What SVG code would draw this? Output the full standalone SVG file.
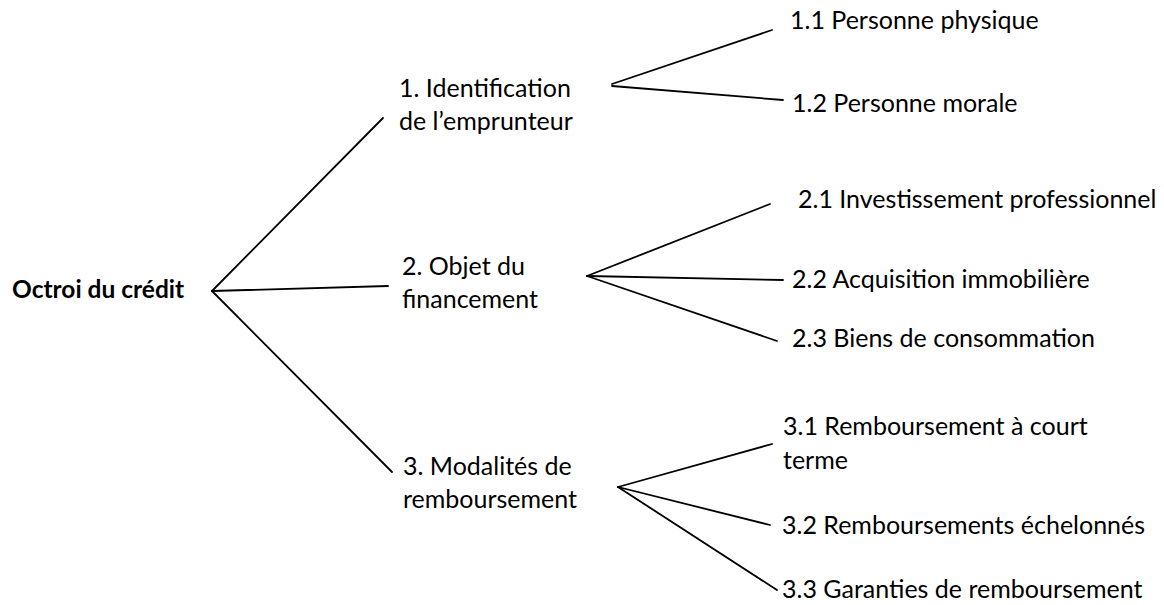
<svg xmlns="http://www.w3.org/2000/svg" width="1164" height="605" viewBox="0 0 1164 605">
<style>
text { font-family: Lato, "Liberation Sans", sans-serif; font-size: 25px; fill: #000; }
.root { font-weight: bold; font-size: 24.5px; }
.edge { stroke: #000; stroke-width: 1.8; fill: none; stroke-linecap: round; }
</style>
<rect width="1164" height="605" fill="#fff"/>
<g id="connectors">
  <line class="edge" x1="212" y1="291" x2="383" y2="118"/>
  <line class="edge" x1="212" y1="291" x2="388" y2="286"/>
  <line class="edge" x1="212" y1="291" x2="392" y2="472"/>
  <line class="edge" x1="612" y1="84" x2="772" y2="30"/>
  <line class="edge" x1="612" y1="86" x2="783" y2="100"/>
  <line class="edge" x1="587" y1="276" x2="770" y2="204"/>
  <line class="edge" x1="587" y1="276" x2="783" y2="280"/>
  <line class="edge" x1="587" y1="276" x2="777" y2="341"/>
  <line class="edge" x1="618" y1="487" x2="772" y2="444"/>
  <line class="edge" x1="618" y1="487" x2="770" y2="525"/>
  <line class="edge" x1="618" y1="487" x2="777" y2="590"/>
</g>
<g id="root"><text class="root" x="12" y="298">Octroi du crédit</text></g>
<g id="n1"><text x="399" y="97">1. Identification</text><text x="399" y="130">de l’emprunteur</text></g>
<g id="n2"><text x="402" y="275">2. Objet du</text><text x="402" y="308">financement</text></g>
<g id="n3"><text x="403" y="475">3. Modalités de</text><text x="403" y="508">remboursement</text></g>
<g id="n11"><text x="790" y="29">1.1 Personne physique</text></g>
<g id="n12"><text x="792" y="112">1.2 Personne morale</text></g>
<g id="n21"><text x="798" y="208">2.1 Investissement professionnel</text></g>
<g id="n22"><text x="792" y="288">2.2 Acquisition immobilière</text></g>
<g id="n23"><text x="792" y="347">2.3 Biens de consommation</text></g>
<g id="n31"><text x="783" y="435">3.1 Remboursement à court</text><text x="783" y="469">terme</text></g>
<g id="n32"><text x="782" y="534">3.2 Remboursements échelonnés</text></g>
<g id="n33"><text x="782" y="598">3.3 Garanties de remboursement</text></g>
</svg>
